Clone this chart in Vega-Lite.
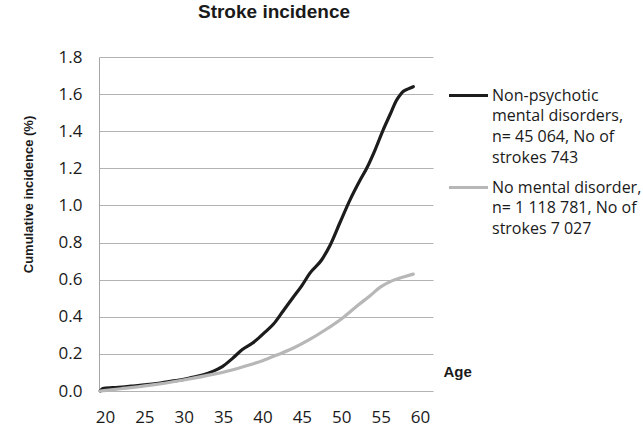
{
  "$schema": "https://vega.github.io/schema/vega-lite/v6.json",
  "autosize": {"type": "none"},
  "padding": {"left": 99, "top": 57, "right": 210, "bottom": 36},
  "width": 334,
  "height": 334,
  "background": "white",
  "title": {
    "text": "Stroke incidence",
    "font": "Liberation Sans",
    "fontSize": 19,
    "fontWeight": "bold",
    "color": "#1a1a1a",
    "anchor": "middle",
    "dx": 8,
    "offset": 26
  },
  "data": {
    "values": [
      {"age": 19.4, "inc": 0.000, "group": "Non-psychotic|mental disorders,|n= 45 064, No of|strokes 743"},
      {"age": 19.7, "inc": 0.013, "group": "Non-psychotic|mental disorders,|n= 45 064, No of|strokes 743"},
      {"age": 21.0, "inc": 0.018, "group": "Non-psychotic|mental disorders,|n= 45 064, No of|strokes 743"},
      {"age": 22.5, "inc": 0.023, "group": "Non-psychotic|mental disorders,|n= 45 064, No of|strokes 743"},
      {"age": 23.5, "inc": 0.027, "group": "Non-psychotic|mental disorders,|n= 45 064, No of|strokes 743"},
      {"age": 25.0, "inc": 0.033, "group": "Non-psychotic|mental disorders,|n= 45 064, No of|strokes 743"},
      {"age": 26.5, "inc": 0.040, "group": "Non-psychotic|mental disorders,|n= 45 064, No of|strokes 743"},
      {"age": 27.7, "inc": 0.048, "group": "Non-psychotic|mental disorders,|n= 45 064, No of|strokes 743"},
      {"age": 29.0, "inc": 0.056, "group": "Non-psychotic|mental disorders,|n= 45 064, No of|strokes 743"},
      {"age": 30.0, "inc": 0.063, "group": "Non-psychotic|mental disorders,|n= 45 064, No of|strokes 743"},
      {"age": 31.1, "inc": 0.074, "group": "Non-psychotic|mental disorders,|n= 45 064, No of|strokes 743"},
      {"age": 32.5, "inc": 0.088, "group": "Non-psychotic|mental disorders,|n= 45 064, No of|strokes 743"},
      {"age": 33.6, "inc": 0.104, "group": "Non-psychotic|mental disorders,|n= 45 064, No of|strokes 743"},
      {"age": 34.9, "inc": 0.131, "group": "Non-psychotic|mental disorders,|n= 45 064, No of|strokes 743"},
      {"age": 36.2, "inc": 0.176, "group": "Non-psychotic|mental disorders,|n= 45 064, No of|strokes 743"},
      {"age": 37.4, "inc": 0.222, "group": "Non-psychotic|mental disorders,|n= 45 064, No of|strokes 743"},
      {"age": 38.7, "inc": 0.257, "group": "Non-psychotic|mental disorders,|n= 45 064, No of|strokes 743"},
      {"age": 39.5, "inc": 0.285, "group": "Non-psychotic|mental disorders,|n= 45 064, No of|strokes 743"},
      {"age": 40.4, "inc": 0.320, "group": "Non-psychotic|mental disorders,|n= 45 064, No of|strokes 743"},
      {"age": 41.4, "inc": 0.361, "group": "Non-psychotic|mental disorders,|n= 45 064, No of|strokes 743"},
      {"age": 42.6, "inc": 0.430, "group": "Non-psychotic|mental disorders,|n= 45 064, No of|strokes 743"},
      {"age": 43.9, "inc": 0.505, "group": "Non-psychotic|mental disorders,|n= 45 064, No of|strokes 743"},
      {"age": 45.0, "inc": 0.568, "group": "Non-psychotic|mental disorders,|n= 45 064, No of|strokes 743"},
      {"age": 46.0, "inc": 0.634, "group": "Non-psychotic|mental disorders,|n= 45 064, No of|strokes 743"},
      {"age": 47.5, "inc": 0.706, "group": "Non-psychotic|mental disorders,|n= 45 064, No of|strokes 743"},
      {"age": 48.6, "inc": 0.787, "group": "Non-psychotic|mental disorders,|n= 45 064, No of|strokes 743"},
      {"age": 49.8, "inc": 0.904, "group": "Non-psychotic|mental disorders,|n= 45 064, No of|strokes 743"},
      {"age": 51.1, "inc": 1.029, "group": "Non-psychotic|mental disorders,|n= 45 064, No of|strokes 743"},
      {"age": 52.4, "inc": 1.137, "group": "Non-psychotic|mental disorders,|n= 45 064, No of|strokes 743"},
      {"age": 53.2, "inc": 1.198, "group": "Non-psychotic|mental disorders,|n= 45 064, No of|strokes 743"},
      {"age": 54.3, "inc": 1.300, "group": "Non-psychotic|mental disorders,|n= 45 064, No of|strokes 743"},
      {"age": 55.3, "inc": 1.405, "group": "Non-psychotic|mental disorders,|n= 45 064, No of|strokes 743"},
      {"age": 56.2, "inc": 1.490, "group": "Non-psychotic|mental disorders,|n= 45 064, No of|strokes 743"},
      {"age": 57.0, "inc": 1.566, "group": "Non-psychotic|mental disorders,|n= 45 064, No of|strokes 743"},
      {"age": 57.5, "inc": 1.597, "group": "Non-psychotic|mental disorders,|n= 45 064, No of|strokes 743"},
      {"age": 57.9, "inc": 1.615, "group": "Non-psychotic|mental disorders,|n= 45 064, No of|strokes 743"},
      {"age": 58.5, "inc": 1.628, "group": "Non-psychotic|mental disorders,|n= 45 064, No of|strokes 743"},
      {"age": 59.15, "inc": 1.640, "group": "Non-psychotic|mental disorders,|n= 45 064, No of|strokes 743"},
      {"age": 19.4, "inc": 0.000, "group": "No mental disorder,|n= 1  118 781, No of|strokes 7 027"},
      {"age": 22.0, "inc": 0.012, "group": "No mental disorder,|n= 1  118 781, No of|strokes 7 027"},
      {"age": 25.6, "inc": 0.030, "group": "No mental disorder,|n= 1  118 781, No of|strokes 7 027"},
      {"age": 29.8, "inc": 0.058, "group": "No mental disorder,|n= 1  118 781, No of|strokes 7 027"},
      {"age": 34.0, "inc": 0.092, "group": "No mental disorder,|n= 1  118 781, No of|strokes 7 027"},
      {"age": 36.0, "inc": 0.112, "group": "No mental disorder,|n= 1  118 781, No of|strokes 7 027"},
      {"age": 38.3, "inc": 0.140, "group": "No mental disorder,|n= 1  118 781, No of|strokes 7 027"},
      {"age": 40.0, "inc": 0.163, "group": "No mental disorder,|n= 1  118 781, No of|strokes 7 027"},
      {"age": 42.0, "inc": 0.197, "group": "No mental disorder,|n= 1  118 781, No of|strokes 7 027"},
      {"age": 44.0, "inc": 0.233, "group": "No mental disorder,|n= 1  118 781, No of|strokes 7 027"},
      {"age": 46.0, "inc": 0.278, "group": "No mental disorder,|n= 1  118 781, No of|strokes 7 027"},
      {"age": 48.0, "inc": 0.330, "group": "No mental disorder,|n= 1  118 781, No of|strokes 7 027"},
      {"age": 50.3, "inc": 0.398, "group": "No mental disorder,|n= 1  118 781, No of|strokes 7 027"},
      {"age": 52.0, "inc": 0.458, "group": "No mental disorder,|n= 1  118 781, No of|strokes 7 027"},
      {"age": 53.7, "inc": 0.515, "group": "No mental disorder,|n= 1  118 781, No of|strokes 7 027"},
      {"age": 55.0, "inc": 0.561, "group": "No mental disorder,|n= 1  118 781, No of|strokes 7 027"},
      {"age": 56.5, "inc": 0.595, "group": "No mental disorder,|n= 1  118 781, No of|strokes 7 027"},
      {"age": 58.0, "inc": 0.616, "group": "No mental disorder,|n= 1  118 781, No of|strokes 7 027"},
      {"age": 59.15, "inc": 0.630, "group": "No mental disorder,|n= 1  118 781, No of|strokes 7 027"}
    ]
  },
  "mark": {"type": "line", "interpolate": "monotone", "strokeWidth": 3.2, "strokeCap": "round", "strokeJoin": "round"},
  "encoding": {
    "x": {
      "field": "age",
      "type": "quantitative",
      "scale": {"domain": [19.24, 61.65], "nice": false, "zero": false},
      "axis": {
        "values": [20, 25, 30, 35, 40, 45, 50, 55, 60],
        "grid": false,
        "domain": false,
        "ticks": false,
        "labelFont": "Open Sans",
        "labelFontSize": 17,
        "labelColor": "#1a1a1a",
        "labelPadding": 18,
        "title": "Age",
        "titleFont": "Liberation Sans",
        "titleFontSize": 15,
        "titleFontWeight": "bold",
        "titleColor": "#1a1a1a",
        "titleAlign": "left",
        "titleBaseline": "middle",
        "titleAnchor": "start",
        "titleX": 344,
        "titleY": -20
      }
    },
    "y": {
      "field": "inc",
      "type": "quantitative",
      "scale": {"domain": [0, 1.8], "nice": false},
      "axis": {
        "values": [0, 0.2, 0.4, 0.6, 0.8, 1.0, 1.2, 1.4, 1.6, 1.8],
        "format": ".1f",
        "grid": true,
        "gridColor": "#b3b3b3",
        "gridWidth": 1,
        "domain": true,
        "domainColor": "#a6a6a6",
        "domainWidth": 1,
        "ticks": false,
        "labelFont": "Open Sans",
        "labelFontSize": 17,
        "labelColor": "#1a1a1a",
        "labelPadding": 17,
        "title": "Cumulative incidence (%)",
        "titleFont": "Liberation Sans",
        "titleFontSize": 13,
        "titleFontWeight": "bold",
        "titleColor": "#1a1a1a",
        "titleX": -71,
        "titleY": 137,
        "titleAngle": -90,
        "titleAlign": "center",
        "titleBaseline": "middle"
      }
    },
    "color": {
      "field": "group",
      "type": "nominal",
      "scale": {
        "domain": ["Non-psychotic|mental disorders,|n= 45 064, No of|strokes 743", "No mental disorder,|n= 1  118 781, No of|strokes 7 027"],
        "range": ["#1c1c1c", "#b7b7b7"]
      },
      "legend": {
        "title": null,
        "orient": "none",
        "legendX": 348,
        "legendY": 17,
        "symbolType": "stroke",
        "symbolSize": 1521,
        "symbolStrokeWidth": 3.2,
        "labelExpr": "split(datum.label, '|')",
        "labelFont": "Open Sans",
        "labelFontSize": 16,
        "labelColor": "#1a1a1a",
        "labelLimit": 300,
        "labelOffset": 2,
        "labelBaseline": "middle",
        "rowPadding": 0,
        "encode": {
          "labels": {"update": {"lineHeight": {"value": 20.7}}}
        }
      }
    }
  },
  "config": {"view": {"stroke": null}}
}
